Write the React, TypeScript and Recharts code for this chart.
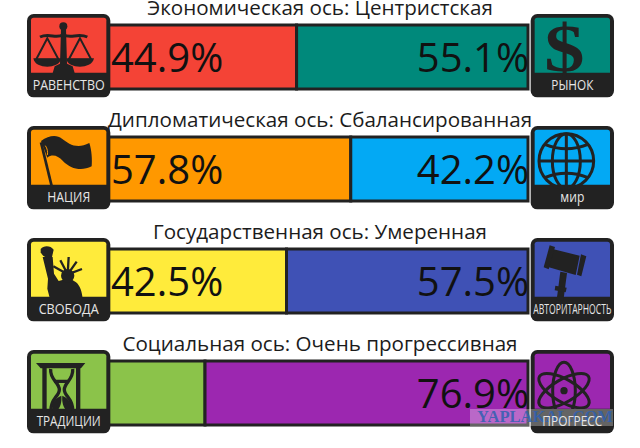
import React from "react"
import { Bar, BarChart, LabelList, XAxis, YAxis } from "recharts"

const axes = ["Экономическая", "Дипломатическая", "Государственная", "Социальная"]
const titles = [
  "Экономическая ось: Центристская",
  "Дипломатическая ось: Сбалансированная",
  "Государственная ось: Умеренная",
  "Социальная ось: Очень прогрессивная",
]
const leftValues = [44.9, 57.8, 42.5, 23.1]
const rightValues = [55.1, 42.2, 57.5, 76.9]
const leftNames = ["РАВЕНСТВО", "НАЦИЯ", "СВОБОДА", "ТРАДИЦИИ"]
const rightNames = ["РЫНОК", "МИР", "АВТОРИТАРНОСТЬ", "ПРОГРЕСС"]
const leftColors = ["#f44336", "#ff9800", "#ffeb3b", "#8bc34a"]
const rightColors = ["#00897b", "#03a9f4", "#3f51b5", "#9c27b0"]

// squeezed widths of the badge captions, px
const leftNameWidths = [72, 43, 60, 64]
const rightNameWidths = [42, 24, 78, 60]

const data = axes.map((axis, i) => ({ axis, left: leftValues[i], right: rightValues[i] }))

const INK = "#222222"
const FONT = "'Open Sans', sans-serif"

// icons are drawn in a 264 unit box, 3 units to a pixel
const Scales = () => (
  <g fill={INK} stroke={INK}>
    <circle cx={112} cy={40} r={12} stroke="none" />
    <path d="M105,48 L120,48 L123,152 L140,160 L146,180 L80,180 L86,160 L102,152 Z" stroke="none" />
    <path d="M42,72 C70,58 92,80 112,64 C132,80 155,58 184,72" fill="none" strokeWidth={9} />
    <path d="M64,76 L30,140 L98,140 Z" fill="none" strokeWidth={6} />
    <path d="M162,76 L128,140 L196,140 Z" fill="none" strokeWidth={6} />
    <path d="M22,136 L106,136 C102,155 82,161 64,161 C44,161 26,155 22,136 Z" stroke="none" />
    <path d="M120,136 L204,136 C200,155 180,161 162,161 C142,161 124,155 120,136 Z" stroke="none" />
  </g>
)

const Dollar = () => (
  <text
    transform="translate(109 175) scale(1.18 1)"
    textAnchor="middle"
    fontFamily="'Liberation Serif', serif"
    fontWeight="bold"
    fontSize={205}
    fill={INK}
  >
    $
  </text>
)

const Flag = () => (
  <g>
    <path d="M45,52 L78,187" stroke={INK} strokeWidth={8} fill="none" />
    <path
      d="M45,48 C68,31 92,28 108,41 C128,56 152,74 190,54 C197,76 199,104 197,124 C166,140 134,132 110,107 C96,93 80,86 64,98 Z"
      fill={INK}
    />
    <path d="M58,62 C64,70 66,82 64,90" stroke="#ff9800" strokeWidth={3} fill="none" />
  </g>
)

const Globe = () => (
  <g fill="none" stroke={INK} strokeWidth={9}>
    <circle cx={115} cy={108} r={82} />
    <ellipse cx={115} cy={108} rx={42} ry={82} />
    <path d="M115,26 L115,190 M33,108 L197,108" />
    <path d="M50,58 Q115,84 180,58 M50,158 Q115,132 180,158" />
  </g>
)

const Liberty = () => (
  <g fill={INK} stroke={INK}>
    <path d="M44,36 C54,24 74,26 83,38 L78,60 C65,66 50,60 44,46 Z" stroke="none" />
    <path d="M50,60 L80,60 L84,110 L98,132 L112,128 L138,128 L150,136 C162,145 168,165 170,186 L72,186 L64,155 L66,125 Z" stroke="none" />
    <circle cx={125} cy={116} r={20} stroke="none" />
    <path d="M125,112 L82,88 M125,112 L103,70 M125,112 L128,60 M125,112 L152,74 M125,112 L168,96" strokeWidth={7} fill="none" />
  </g>
)

const Gavel = () => (
  <g fill={INK} stroke="none">
    <path d="M74,36 L155,56 L143,114 L60,90 Z" />
    <path d="M65,25 L81,30 L62,97 L47,91 Z" />
    <path d="M159,52 L175,58 L160,118 L147,113 Z" />
    <path d="M97,104 L117,108 L106,192 L86,188 Z" />
    <path d="M82,146 L116,152 L113,166 L80,160 Z" />
  </g>
)

const Hourglass = () => (
  <g fill={INK} stroke={INK}>
    <path d="M30,42 L178,42 L165,58 L44,58 Z" stroke="none" />
    <path d="M49,56 L62,56 L62,186 L49,186 Z M150,56 L163,56 L163,186 L150,186 Z" stroke="none" />
    <path d="M74,60 C71,92 100,100 100,122 C100,142 72,150 75,186 M140,60 C143,92 115,100 115,122 C115,142 143,150 140,186 M84,97 L130,97" fill="none" strokeWidth={10} />
    <path d="M106,140 C90,146 76,160 79,186 L92,186 C104,176 108,156 106,140 Z M109,140 C125,146 139,160 136,186 L123,186 C111,176 107,156 109,140 Z" stroke="none" />
  </g>
)

const Atom = () => (
  <g fill="none" stroke={INK} strokeWidth={9}>
    <ellipse cx={108} cy={125} rx={34} ry={85} />
    <ellipse cx={108} cy={125} rx={85} ry={34} transform="rotate(30 108 125)" />
    <ellipse cx={108} cy={125} rx={85} ry={34} transform="rotate(-30 108 125)" />
    <circle cx={108} cy={125} r={11} fill={INK} stroke="none" />
  </g>
)

const leftIcons = [Scales, Flag, Liberty, Hourglass]
const rightIcons = [Dollar, Globe, Gavel, Atom]

function Badge({ x, y, boxX, color, name, nameWidth, Icon, caption = true }: any) {
  return (
    <g transform={`translate(${x} ${y}) scale(${1 / 3})`}>
      <rect x={boxX} y={3} width={250} height={250} rx={20} fill={INK} />
      <path
        d={`M${boxX + 12},22 Q${boxX + 12},14 ${boxX + 20},14 L${boxX + 230},14 Q${boxX + 238},14 ${boxX + 238},22 L${boxX + 238},179 L${boxX + 12},179 Z`}
        fill={color}
      />
      <Icon />
      {caption && <Caption boxX={boxX} name={name} nameWidth={nameWidth} />}
    </g>
  )
}

function Caption({ boxX, name, nameWidth }: any) {
  return (
    <text
      x={boxX + 125}
      y={230}
      textAnchor="middle"
      fontFamily={FONT}
      fontSize={44}
      fontWeight={400}
      fill="#e6e6e6"
      textLength={nameWidth * 3}
      lengthAdjust="spacingAndGlyphs"
    >
      {name === "МИР" ? "мир" : name}
    </text>
  )
}

// bar geometry comes from the library, the row furniture hangs off it
function RowDecor(props: any) {
  const { x, y, width, height, index } = props
  const barEnd = x + width
  const top = y + height / 2 - 44
  const isLast = index === titles.length - 1
  return (
    <g>
      <text x={320} y={top + 2} textAnchor="middle" fontFamily={FONT} fontSize={20.6} fill="#1c1c1c">
        {titles[index]}
      </text>
      <Badge
        x={barEnd - 502}
        y={top}
        boxX={3}
        color={leftColors[index]}
        name={leftNames[index]}
        nameWidth={leftNameWidths[index]}
        Icon={leftIcons[index]}
      />
      <Badge
        x={barEnd}
        y={top}
        boxX={8}
        color={rightColors[index]}
        name={rightNames[index]}
        nameWidth={rightNameWidths[index]}
        Icon={rightIcons[index]}
        caption={!isLast}
      />
      {isLast && (
        <g>
          <rect x={470} y={top + 60} width={143} height={17} fill="#ffffff" fillOpacity={0.3} />
          <text
            x={477}
            y={top + 73}
            fontFamily="'Liberation Serif', serif"
            fontWeight="bold"
            fontSize={16}
            textLength={136}
            lengthAdjust="spacingAndGlyphs"
            fill="#3060b0"
            fillOpacity={0.85}
          >
            YAPLAKAL.COM
          </text>
          <g transform={`translate(${barEnd} ${top}) scale(${1 / 3})`}>
            <Caption boxX={8} name={rightNames[index]} nameWidth={rightNameWidths[index]} />
          </g>
        </g>
      )}
    </g>
  )
}

function LeftValue(props: any) {
  const { x, y, height, value } = props
  // too narrow a segment carries no figure
  if (value < 30) return null
  return (
    <text x={x + 3} y={y + height / 2 + 15} fontFamily={FONT} fontSize={40} fill="#111111">
      {value}%
    </text>
  )
}

function RightValue(props: any) {
  const { x, y, width, height, value } = props
  if (value < 30) return null
  return (
    <text x={x + width + 1} y={y + height / 2 + 15} textAnchor="end" fontFamily={FONT} fontSize={40} fill="#111111">
      {value}%
    </text>
  )
}

export default function App() {
  return (
    <div style={{ position: "absolute", left: 0, top: 0, width: 640, height: 448, overflow: "hidden", background: "#fff" }}>
      <BarChart
        width={640}
        height={450}
        data={data}
        layout="vertical"
        barCategoryGap={0}
        margin={{ top: 1, right: 112, bottom: 1, left: 108 }}
      >
        <XAxis type="number" domain={[0, 100]} hide />
        <YAxis type="category" dataKey="axis" hide />
        <Bar dataKey="left" stackId="a" barSize={64} isAnimationActive={false}
          shape={(p: any) => <rect x={p.x} y={p.y} width={p.width} height={p.height} fill={leftColors[p.index]} stroke={INK} strokeWidth={3} />}
        >
          <LabelList dataKey="left" content={LeftValue} />
        </Bar>
        <Bar dataKey="right" stackId="a" barSize={64} isAnimationActive={false}
          shape={(p: any) => <rect x={p.x} y={p.y} width={p.width} height={p.height} fill={rightColors[p.index]} stroke={INK} strokeWidth={3} />}
        >
          <LabelList dataKey="right" content={RightValue} />
          <LabelList dataKey="right" content={RowDecor} />
        </Bar>
      </BarChart>
    </div>
  )
}
